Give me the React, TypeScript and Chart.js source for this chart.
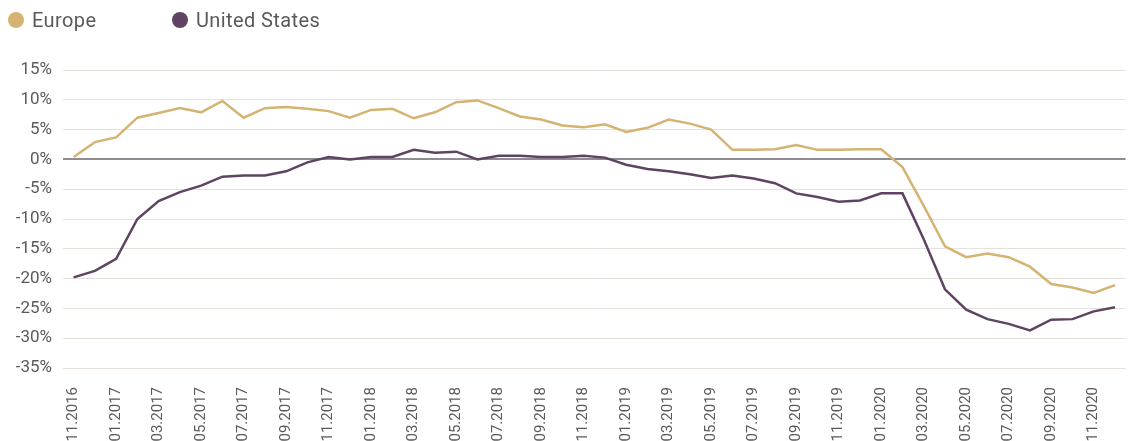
import { useEffect, useRef } from "react"
import { Chart, registerables } from "chart.js"

Chart.register(...registerables)

const months = [
  "11.2016", "12.2016", "01.2017", "02.2017", "03.2017", "04.2017", "05.2017", "06.2017",
  "07.2017", "08.2017", "09.2017", "10.2017", "11.2017", "12.2017", "01.2018", "02.2018",
  "03.2018", "04.2018", "05.2018", "06.2018", "07.2018", "08.2018", "09.2018", "10.2018",
  "11.2018", "12.2018", "01.2019", "02.2019", "03.2019", "04.2019", "05.2019", "06.2019",
  "07.2019", "08.2019", "09.2019", "10.2019", "11.2019", "12.2019", "01.2020", "02.2020",
  "03.2020", "04.2020", "05.2020", "06.2020", "07.2020", "08.2020", "09.2020", "10.2020",
  "11.2020", "12.2020",
]

const europe = [
  0.4, 2.9, 3.7, 7.0, 7.8, 8.6, 7.9, 9.8, 7.0, 8.6,
  8.8, 8.5, 8.1, 7.0, 8.3, 8.5, 6.9, 7.9, 9.6, 9.9,
  8.6, 7.2, 6.7, 5.7, 5.4, 5.9, 4.6, 5.3, 6.7, 6.0,
  5.0, 1.6, 1.6, 1.7, 2.4, 1.6, 1.6, 1.7, 1.7, -1.3,
  -7.8, -14.6, -16.4, -15.8, -16.4, -18.0, -20.9, -21.5, -22.4, -21.1,
]

const unitedStates = [
  -19.8, -18.7, -16.7, -10.0, -7.0, -5.5, -4.4, -2.9, -2.7, -2.7,
  -2.0, -0.5, 0.4, 0.0, 0.4, 0.4, 1.6, 1.1, 1.3, 0.0,
  0.6, 0.6, 0.4, 0.4, 0.6, 0.3, -0.9, -1.6, -2.0, -2.5,
  -3.1, -2.7, -3.2, -4.0, -5.7, -6.3, -7.1, -6.9, -5.7, -5.7,
  -13.4, -21.8, -25.2, -26.8, -27.6, -28.7, -26.9, -26.8, -25.5, -24.8,
]

const EUROPE_COLOR = "#d5b373"
const US_COLOR = "#5e4462"
const TEXT_COLOR = "#5a5a5a"
const FONT = "Roboto, 'Noto Sans', sans-serif"

export default function App() {
  const chartRef = useRef<HTMLCanvasElement>(null)
  const chartInstance = useRef<Chart | null>(null)

  useEffect(() => {
    document.body.style.margin = "0"
    if (!chartRef.current) return

    if (chartInstance.current) {
      chartInstance.current.destroy()
    }

    const ctx = chartRef.current.getContext("2d")
    if (!ctx) return

    chartInstance.current = new Chart(ctx, {
      type: "line",
      data: {
        labels: months,
        datasets: [
          {
            label: "Europe",
            data: europe,
            borderColor: EUROPE_COLOR,
            backgroundColor: EUROPE_COLOR,
            borderWidth: 2.5,
            pointRadius: 0,
            tension: 0,
          },
          {
            label: "United States",
            data: unitedStates,
            borderColor: US_COLOR,
            backgroundColor: US_COLOR,
            borderWidth: 2.5,
            pointRadius: 0,
            tension: 0,
          },
        ],
      },
      options: {
        animation: false,
        responsive: true,
        maintainAspectRatio: false,
        layout: {
          padding: { top: 70, right: 1, left: 0, bottom: 0 },
        },
        plugins: {
          legend: { display: false },
          tooltip: { enabled: false },
        },
        scales: {
          x: {
            offset: true,
            grid: { display: false, drawTicks: true, tickLength: 8 },
            border: { display: false },
            // fixed height: the rotated labels run past the bottom edge, as in the original
            afterFit: (scale) => {
              scale.height = 73
            },
            ticks: {
              autoSkip: false,
              maxRotation: 90,
              minRotation: 90,
              padding: 11,
              color: TEXT_COLOR,
              font: { family: FONT, size: 15 },
              callback: (_value, index) => (index % 2 === 0 ? months[index] : ""),
            },
          },
          y: {
            min: -35,
            max: 15,
            afterFit: (scale) => {
              scale.width = 63
            },
            border: { display: false },
            grid: {
              drawTicks: false,
              color: (c) => (c.tick && c.tick.value === 0 ? "#8e8b93" : "#e6e1db"),
              lineWidth: (c) => (c.tick && c.tick.value === 0 ? 2 : 1),
            },
            ticks: {
              stepSize: 5,
              padding: 11,
              color: TEXT_COLOR,
              font: { family: FONT, size: 17 },
              callback: (value) => value + "%",
            },
          },
        },
      },
    })

    return () => {
      if (chartInstance.current) {
        chartInstance.current.destroy()
        chartInstance.current = null
      }
    }
  }, [])

  const legendItem = (left: number, color: string, text: string) => (
    <div
      style={{
        position: "absolute",
        left,
        top: 10,
        display: "flex",
        alignItems: "center",
        fontFamily: FONT,
        fontSize: 20,
        letterSpacing: 0.4,
        color: TEXT_COLOR,
        lineHeight: "20px",
      }}
    >
      <span
        style={{
          display: "inline-block",
          width: 16,
          height: 16,
          borderRadius: "50%",
          background: color,
          marginRight: 8,
        }}
      />
      <span>{text}</span>
    </div>
  )

  return (
    <div style={{ position: "relative", width: 1144, height: 441, overflow: "hidden" }}>
      {legendItem(8, EUROPE_COLOR, "Europe")}
      {legendItem(172, US_COLOR, "United States")}
      <canvas ref={chartRef} />
    </div>
  )
}
